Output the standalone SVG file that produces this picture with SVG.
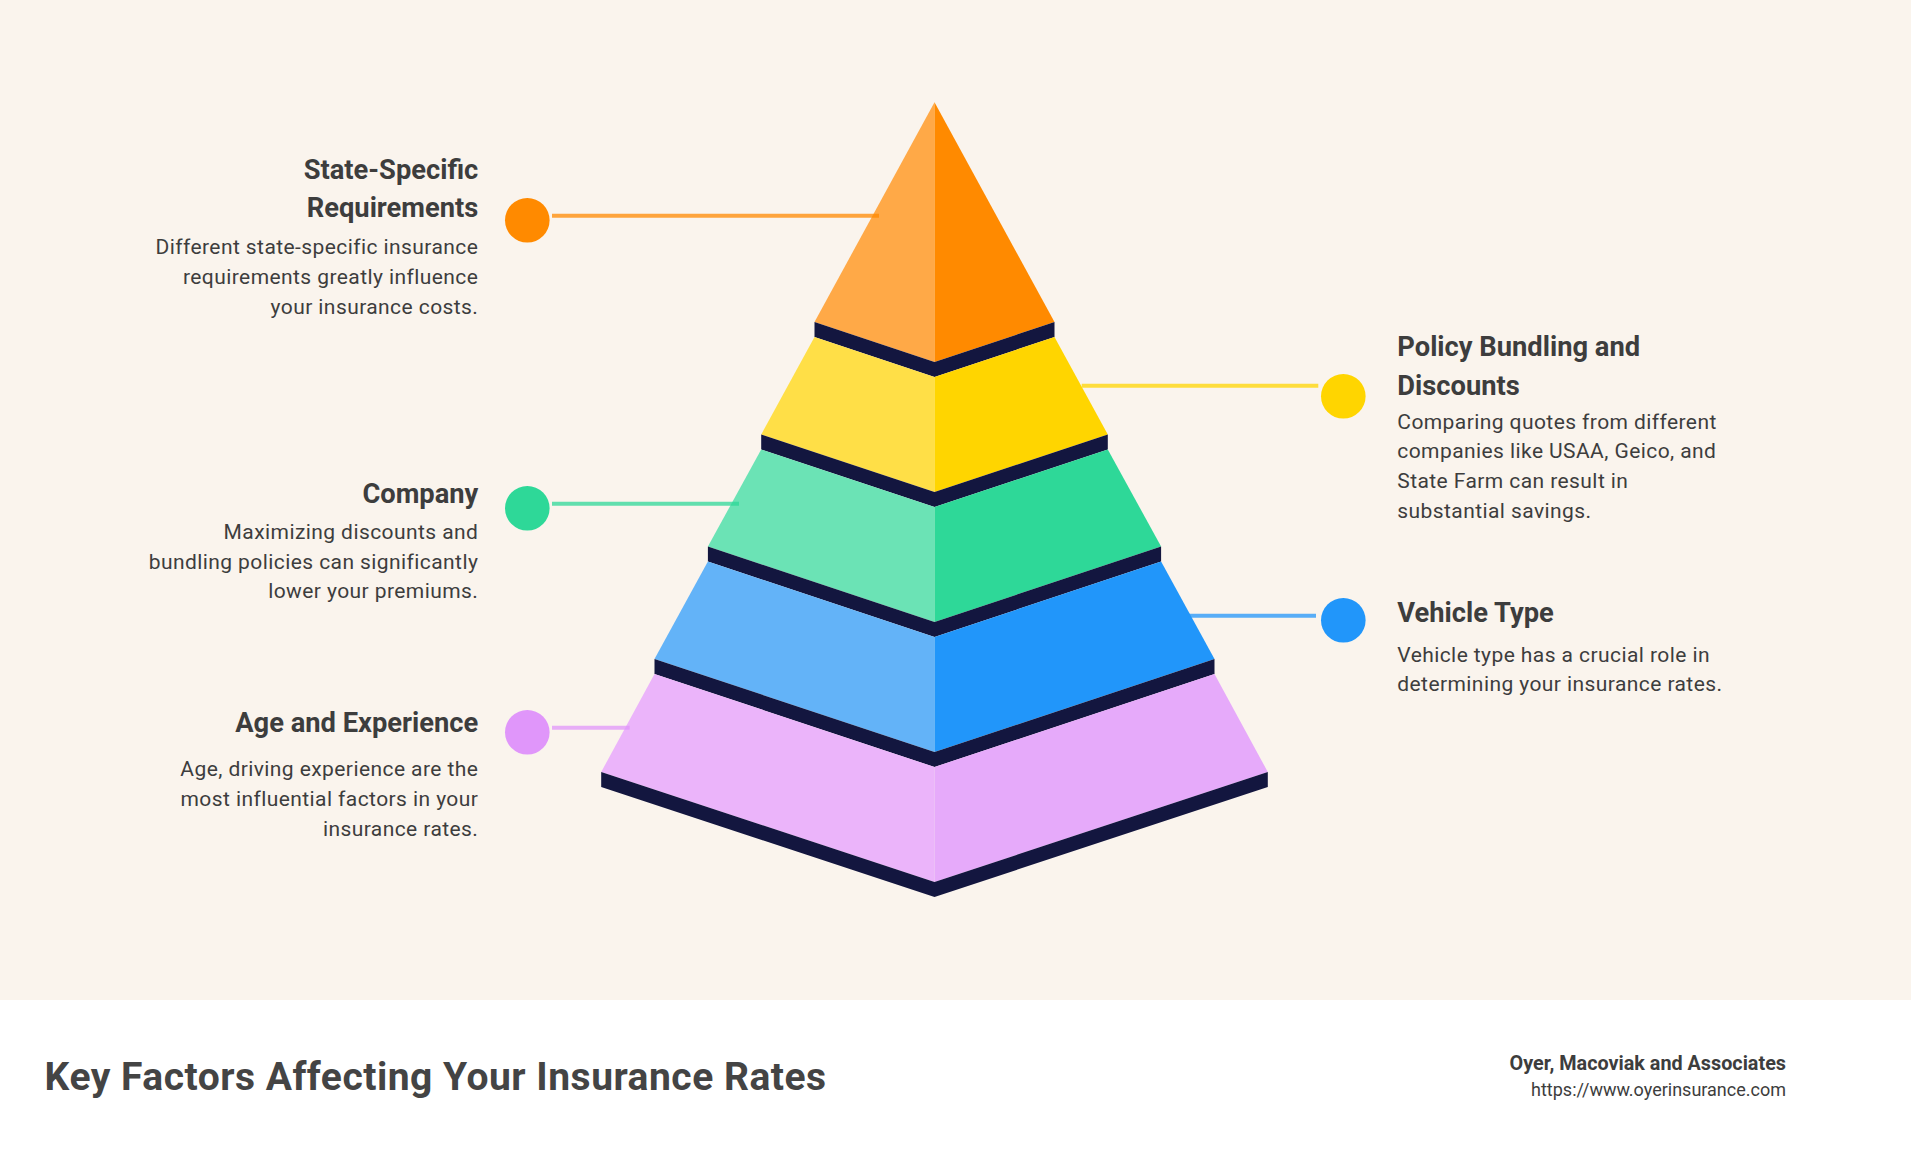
<svg xmlns="http://www.w3.org/2000/svg" width="1911" height="1160" viewBox="0 0 1911 1160">
  <style>
    .title { font-family: Roboto, "Liberation Sans", sans-serif; font-weight: 700; font-size: 27.3px; fill: #3d3d3d; }
    .body { font-family: Roboto, "Liberation Sans", sans-serif; font-weight: 400; font-size: 21px; letter-spacing: 0.42px; fill: #3d3d3d; }
    .left { text-anchor: end; }
    .band { fill: #13163f; }
    .conn { stroke-width: 4; opacity: 0.75; fill: none; }
    .footer-title { font-family: Roboto, "Liberation Sans", sans-serif; font-weight: 700; font-size: 39px; letter-spacing: 0.5px; fill: #444444; }
    .footer-org { font-family: Roboto, "Liberation Sans", sans-serif; font-weight: 700; font-size: 19.8px; fill: #3d3d3d; text-anchor: end; }
    .footer-url { font-family: Roboto, "Liberation Sans", sans-serif; font-weight: 400; font-size: 18px; fill: #3d3d3d; text-anchor: end; }
  </style>
  <rect x="0" y="0" width="1911" height="1000" fill="#faf4ed"/>
  <rect x="0" y="1000" width="1911" height="160" fill="#ffffff"/>

  <g id="pyramid">
    <g id="layer-orange">
      <polygon points="934.5,102.3 814.5,322 934.5,362" fill="#ffa947"/>
      <polygon points="934.5,102.3 1054.5,322 934.5,362" fill="#ff8a00"/>
      <polygon class="band" points="814.5,322 934.5,362 1054.5,322 1054.5,337 934.5,377 814.5,337"/>
    </g>
    <g id="layer-yellow">
      <polygon points="814.5,337 934.5,377 934.5,492 761.2,434.5" fill="#ffdf47"/>
      <polygon points="1054.5,337 934.5,377 934.5,492 1107.8,434.5" fill="#ffd500"/>
      <polygon class="band" points="761.2,434.5 934.5,492 1107.8,434.5 1107.8,449.5 934.5,507 761.2,449.5"/>
    </g>
    <g id="layer-green">
      <polygon points="761.2,449.5 934.5,507 934.5,622 707.9,546.5" fill="#6be3b5"/>
      <polygon points="1107.8,449.5 934.5,507 934.5,622 1161.1,546.5" fill="#2ed898"/>
      <polygon class="band" points="707.9,546.5 934.5,622 1161.1,546.5 1161.1,561.5 934.5,637 707.9,561.5"/>
    </g>
    <g id="layer-blue">
      <polygon points="707.9,561.5 934.5,637 934.5,752 654.5,659" fill="#63b3f8"/>
      <polygon points="1161.1,561.5 934.5,637 934.5,752 1214.5,659" fill="#2196fa"/>
      <polygon class="band" points="654.5,659 934.5,752 1214.5,659 1214.5,674 934.5,767 654.5,674"/>
    </g>
    <g id="layer-purple">
      <polygon points="654.5,674 934.5,767 934.5,882 601.2,772" fill="#ebb4fa"/>
      <polygon points="1214.5,674 934.5,767 934.5,882 1267.8,772" fill="#e6aafa"/>
      <polygon class="band" points="601.2,772 934.5,882 1267.8,772 1267.8,787 934.5,897 601.2,787"/>
    </g>
  </g>

  <g id="connectors">
    <line class="conn" x1="552" y1="215.7" x2="879" y2="215.7" stroke="#ff8a00"/>
    <line class="conn" x1="1081.7" y1="385.7" x2="1318.3" y2="385.7" stroke="#ffd500"/>
    <line class="conn" x1="552" y1="503.7" x2="739" y2="503.7" stroke="#2ed898"/>
    <line class="conn" x1="1188.4" y1="615.7" x2="1316" y2="615.7" stroke="#2196fa"/>
    <line class="conn" x1="552" y1="727.7" x2="629.6" y2="727.7" stroke="#e096fa"/>
  </g>

  <g id="node-state">
    <circle cx="527.3" cy="220.3" r="22.3" fill="#ff8a00"/>
    <text class="title left" x="478.3" y="179">State-Specific</text>
    <text class="title left" x="478.3" y="216.5">Requirements</text>
    <text class="body left" x="478.3" y="254.3">Different state-specific insurance</text>
    <text class="body left" x="478.3" y="284">requirements greatly influence</text>
    <text class="body left" x="478.3" y="314">your insurance costs.</text>
  </g>

  <g id="node-company">
    <circle cx="527.3" cy="508.3" r="22.3" fill="#2ed898"/>
    <text class="title left" x="478.3" y="503.3">Company</text>
    <text class="body left" x="478.3" y="539">Maximizing discounts and</text>
    <text class="body left" x="478.3" y="569">bundling policies can significantly</text>
    <text class="body left" x="478.3" y="598.3">lower your premiums.</text>
  </g>

  <g id="node-age">
    <circle cx="527.3" cy="732.3" r="22.3" fill="#e096fa"/>
    <text class="title left" x="478.3" y="731.7">Age and Experience</text>
    <text class="body left" x="478.3" y="776">Age, driving experience are the</text>
    <text class="body left" x="478.3" y="806">most influential factors in your</text>
    <text class="body left" x="478.3" y="835.7">insurance rates.</text>
  </g>

  <g id="node-policy">
    <circle cx="1343.3" cy="396.3" r="22.3" fill="#ffd500"/>
    <text class="title" x="1397.3" y="356">Policy Bundling and</text>
    <text class="title" x="1397.3" y="394.5">Discounts</text>
    <text class="body" x="1397.3" y="429">Comparing quotes from different</text>
    <text class="body" x="1397.3" y="458.3">companies like USAA, Geico, and</text>
    <text class="body" x="1397.3" y="488.3">State Farm can result in</text>
    <text class="body" x="1397.3" y="518.3">substantial savings.</text>
  </g>

  <g id="node-vehicle">
    <circle cx="1343.3" cy="620.3" r="22.3" fill="#2196fa"/>
    <text class="title" x="1397.3" y="621.7">Vehicle Type</text>
    <text class="body" x="1397.3" y="661.7">Vehicle type has a crucial role in</text>
    <text class="body" x="1397.3" y="691">determining your insurance rates.</text>
  </g>

  <g id="footer">
    <text class="footer-title" x="44.6" y="1090">Key Factors Affecting Your Insurance Rates</text>
    <text class="footer-org" x="1786" y="1070">Oyer, Macoviak and Associates</text>
    <text class="footer-url" x="1786" y="1095.7">https://www.oyerinsurance.com</text>
  </g>
</svg>
